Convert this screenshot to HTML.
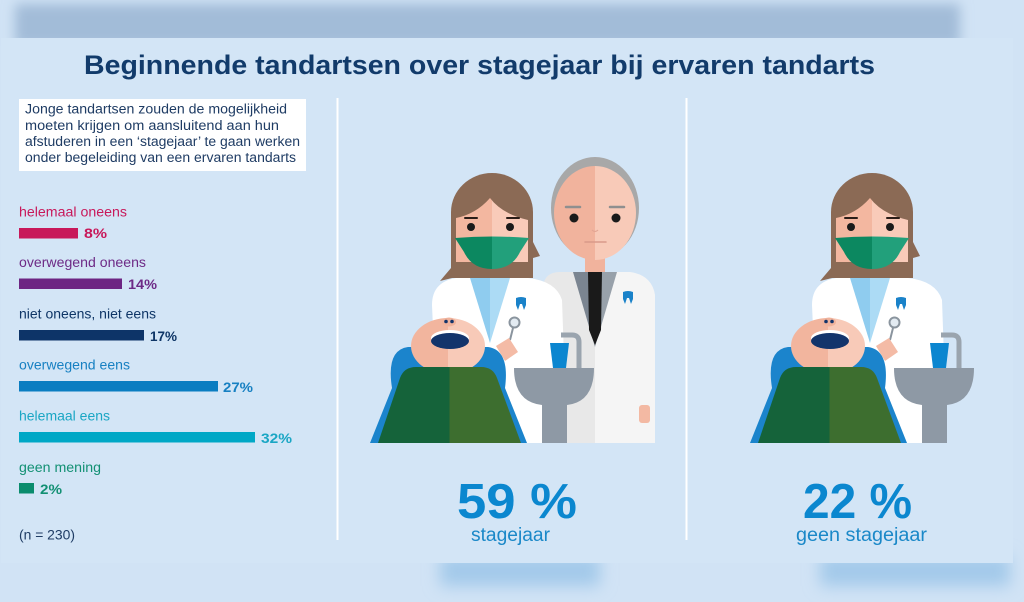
<!DOCTYPE html>
<html><head><meta charset="utf-8"><style>
html,body{margin:0;padding:0;width:1024px;height:602px;overflow:hidden;background:#d1e3f5;}
svg{display:block;}
text{font-family:"Liberation Sans",Arial,sans-serif;}
</style></head><body>
<svg width="1024" height="602" viewBox="0 0 1024 602" xmlns="http://www.w3.org/2000/svg">
<defs>
  <filter id="blur6" x="-20%" y="-80%" width="140%" height="260%"><feGaussianBlur stdDeviation="6"/></filter>
  <filter id="blur8" x="-30%" y="-100%" width="160%" height="300%"><feGaussianBlur stdDeviation="8"/></filter>
  <linearGradient id="gSkinF" x1="0" x2="1" y1="0" y2="0"><stop offset="0.5" stop-color="#f3b7a0"/><stop offset="0.5" stop-color="#f9cbb9"/></linearGradient>
  <linearGradient id="gMask" x1="0" x2="1" y1="0" y2="0"><stop offset="0.5" stop-color="#0c8860"/><stop offset="0.5" stop-color="#22a07b"/></linearGradient>
  <linearGradient id="gCollar" x1="0" x2="1" y1="0" y2="0"><stop offset="0.5" stop-color="#8fccef"/><stop offset="0.5" stop-color="#acdbf5"/></linearGradient>
  <linearGradient id="gHeadP" x1="0" x2="1" y1="0" y2="0"><stop offset="0.5" stop-color="#f2b59e"/><stop offset="0.5" stop-color="#f8cab8"/></linearGradient>
  <linearGradient id="gBody" x1="0" x2="1" y1="0" y2="0"><stop offset="0.5" stop-color="#15633a"/><stop offset="0.5" stop-color="#3d6e2f"/></linearGradient>
  <linearGradient id="gOldHead" x1="0" x2="1" y1="0" y2="0"><stop offset="0.5" stop-color="#f1b39d"/><stop offset="0.5" stop-color="#f8cab8"/></linearGradient>
  <linearGradient id="gOldCoat" x1="0" x2="1" y1="0" y2="0"><stop offset="0.464" stop-color="#e8e8e8"/><stop offset="0.464" stop-color="#f5f5f5"/></linearGradient>
  <linearGradient id="gLapel" x1="0" x2="1" y1="0" y2="0"><stop offset="0.5" stop-color="#7b8591"/><stop offset="0.5" stop-color="#98a1aa"/></linearGradient>

  <g id="scene">
    <!-- female dentist hair -->
    <path d="M451,278 L451,212 A41,39 0 0 1 533,212 L533,278 Z" fill="#8b6a55"/>
    <path d="M451,268 L440,281 L452,278 Z" fill="#8b6a55"/>
    <path d="M533,242 L540,256 L533,258 Z" fill="#8b6a55"/>
    <!-- face -->
    <path d="M456,262 L456,218 Q476,214 490,198 Q502,214 528,220 L528,262 Z" fill="url(#gSkinF)"/>
    <path d="M465,218 L477,218" stroke="#2a1d18" stroke-width="2" stroke-linecap="round"/>
    <path d="M507,218 L519,218" stroke="#2a1d18" stroke-width="2" stroke-linecap="round"/>
    <circle cx="471" cy="227" r="4" fill="#1a1a1a"/>
    <circle cx="510" cy="227" r="4" fill="#1a1a1a"/>
    <!-- mask -->
    <path d="M455,238 Q492,235 529,238 L520,252 Q512,269 492,269 Q472,269 464,252 Z" fill="url(#gMask)"/>
    <!-- coat -->
    <path d="M438,443 L432,305 Q432,282 456,278 L528,278 Q556,281 562,300 L567,443 Z" fill="#ffffff"/>
    <path d="M470,278 L510,278 L490,343 Z" fill="url(#gCollar)"/>
    <path d="M516,298 Q521,296 526,298 L526,305 L524,310 L522,304 L520,304 L518,310 L516,305 Z" fill="#1a82c9"/>
    <!-- hand with mirror -->
    <path d="M510,340 L513,328" stroke="#8a949e" stroke-width="2"/>
    <circle cx="514.5" cy="322.5" r="5" fill="#e3ebf2" stroke="#8a949e" stroke-width="2"/>
    <path d="M496,346 L509,338 L518,352 L505,361 Z" fill="#f4bba6"/>
    <!-- sink -->
    <path d="M579,368 L579,342 Q579,335 572,335 L561,335" fill="none" stroke="#9aa4ae" stroke-width="5"/>
    <path d="M550,343 L569,343 L566,368 L553,368 Z" fill="#0b86d0"/>
    <path d="M514,368 L594,368 Q594,402 567,405 L542,405 Q514,402 514,368 Z" fill="#8e99a5"/>
    <rect x="542" y="400" width="25" height="43" fill="#8e99a5"/>
    <!-- chair -->
    <path d="M370,443 L392,388 Q386,350 408,347 L488,347 Q510,350 505,388 L527,443 Z" fill="#1b84cc"/>
    <!-- patient head -->
    <ellipse cx="448" cy="346" rx="37" ry="28" fill="url(#gHeadP)"/>
    <ellipse cx="449" cy="322" rx="7" ry="4.5" fill="#f0b29b"/>
    <circle cx="446" cy="321.5" r="1.8" fill="#13346b"/>
    <circle cx="452" cy="321.5" r="1.8" fill="#13346b"/>
    <ellipse cx="450" cy="338" rx="19" ry="8" fill="#ffffff"/>
    <ellipse cx="450" cy="341" rx="19" ry="8" fill="#13346b"/>
    <!-- patient body -->
    <path d="M378,443 L400,378 Q404,367 416,367 L481,367 Q493,367 497,378 L521,443 Z" fill="url(#gBody)"/>
  </g>
</defs>

<!-- top blurred band -->
<rect x="15" y="4" width="945" height="42" fill="#a2bcd8" filter="url(#blur6)"/>
<!-- bottom shadows -->
<rect x="440" y="556" width="160" height="30" fill="#a3c9ea" filter="url(#blur8)"/>
<rect x="820" y="556" width="190" height="30" fill="#a3c9ea" filter="url(#blur8)"/>

<!-- panel -->
<rect x="1" y="38" width="1012" height="525" fill="#d3e5f6"/>

<!-- title -->
<text x="84" y="74" font-size="27" font-weight="bold" fill="#123b6b" textLength="791" lengthAdjust="spacingAndGlyphs">Beginnende tandartsen over stagejaar bij ervaren tandarts</text>

<!-- intro box -->
<rect x="19" y="99" width="287" height="72" fill="#ffffff"/>
<g font-size="13.5" fill="#1f3c64">
  <text x="25" y="113.5" textLength="262" lengthAdjust="spacingAndGlyphs">Jonge tandartsen zouden de mogelijkheid</text>
  <text x="25" y="130" textLength="254" lengthAdjust="spacingAndGlyphs">moeten krijgen om aansluitend aan hun</text>
  <text x="25" y="146" textLength="275" lengthAdjust="spacingAndGlyphs">afstuderen in een ‘stagejaar’ te gaan werken</text>
  <text x="25" y="162" textLength="271" lengthAdjust="spacingAndGlyphs">onder begeleiding van een ervaren tandarts</text>
</g>

<!-- bars -->
<g font-size="14">
  <text x="19" y="216.5" fill="#c8185a" textLength="108" lengthAdjust="spacingAndGlyphs">helemaal oneens</text>
  <rect x="19" y="228" width="59" height="10.5" fill="#c8185a"/>
  <text x="84" y="238" fill="#c8185a" font-weight="bold" textLength="23" lengthAdjust="spacingAndGlyphs">8%</text>

  <text x="19" y="267" fill="#6d2a86" textLength="127" lengthAdjust="spacingAndGlyphs">overwegend oneens</text>
  <rect x="19" y="278.5" width="103" height="10.5" fill="#6d2583"/>
  <text x="128" y="289" fill="#6d2a86" font-weight="bold" textLength="29" lengthAdjust="spacingAndGlyphs">14%</text>

  <text x="19" y="318.5" fill="#0e3566" textLength="137" lengthAdjust="spacingAndGlyphs">niet oneens, niet eens</text>
  <rect x="19" y="330" width="125" height="10.5" fill="#0d3468"/>
  <text x="150" y="341" fill="#0e3566" font-weight="bold" textLength="27" lengthAdjust="spacingAndGlyphs">17%</text>

  <text x="19" y="369.5" fill="#1780c2" textLength="111" lengthAdjust="spacingAndGlyphs">overwegend eens</text>
  <rect x="19" y="381" width="199" height="10.5" fill="#0a7dc1"/>
  <text x="223" y="392" fill="#1780c2" font-weight="bold" textLength="30" lengthAdjust="spacingAndGlyphs">27%</text>

  <text x="19" y="420.5" fill="#1aa6c4" textLength="91" lengthAdjust="spacingAndGlyphs">helemaal eens</text>
  <rect x="19" y="432" width="236" height="10.5" fill="#00a8c6"/>
  <text x="261" y="443" fill="#1aa6c4" font-weight="bold" textLength="31" lengthAdjust="spacingAndGlyphs">32%</text>

  <text x="19" y="472" fill="#129073" textLength="82" lengthAdjust="spacingAndGlyphs">geen mening</text>
  <rect x="19" y="483" width="15" height="10.5" fill="#0a8c6d"/>
  <text x="40" y="494" fill="#129073" font-weight="bold" textLength="22" lengthAdjust="spacingAndGlyphs">2%</text>

  <text x="19" y="539.5" fill="#1f3c64" textLength="56" lengthAdjust="spacingAndGlyphs">(n = 230)</text>
</g>

<!-- dividers -->
<rect x="336.5" y="98" width="2" height="442" fill="#ffffff"/>
<rect x="685.5" y="98" width="2" height="442" fill="#ffffff"/>

<!-- old man (behind) -->
<g>
  <rect x="585" y="252" width="20" height="24" fill="#f1b39d"/>
  <path d="M545,443 L543,286 Q545,272 560,272 L630,272 Q652,275 655,295 L655,443 Z" fill="url(#gOldCoat)"/>
  <path d="M573,272 L617,272 L595,347 Z" fill="url(#gLapel)"/>
  <path d="M588,272 L602,272 L601,330 L595,345 L589,330 Z" fill="#1a1a1a"/>
  <path d="M623,292 Q628,290 633,292 L633,299 L631,304 L629,298 L627,298 L625,304 L623,299 Z" fill="#1a82c9"/>
  <rect x="639" y="405" width="11" height="18" rx="3" fill="#f3b9a3"/>
  <ellipse cx="595" cy="208" rx="44" ry="51" fill="#a8a8a8"/>
  <ellipse cx="595" cy="213" rx="41" ry="47" fill="url(#gOldHead)"/>
  <path d="M566,207 L580,207" stroke="#8f8f8f" stroke-width="2.5" stroke-linecap="round"/>
  <path d="M610,207 L624,207" stroke="#8f8f8f" stroke-width="2.5" stroke-linecap="round"/>
  <circle cx="574" cy="218" r="4.5" fill="#1a1a1a"/>
  <circle cx="616" cy="218" r="4.5" fill="#1a1a1a"/>
  <path d="M585,242 L606,242" stroke="#d9998a" stroke-width="1.5" stroke-linecap="round"/>
  <path d="M592,230 Q595,233 598,230" stroke="#e2a594" stroke-width="1.2" fill="none"/>
</g>

<!-- scenes -->
<use href="#scene"/>
<use href="#scene" transform="translate(380,0)"/>

<!-- big numbers -->
<text x="457" y="518" font-size="49" font-weight="bold" fill="#0b87cf" textLength="120" lengthAdjust="spacingAndGlyphs">59 %</text>
<text x="471" y="541" font-size="19" fill="#1a88c8" textLength="79" lengthAdjust="spacingAndGlyphs">stagejaar</text>
<text x="803" y="518" font-size="49" font-weight="bold" fill="#0b87cf" textLength="109" lengthAdjust="spacingAndGlyphs">22 %</text>
<text x="796" y="541" font-size="19" fill="#1a88c8" textLength="131" lengthAdjust="spacingAndGlyphs">geen stagejaar</text>
</svg>
</body></html>
